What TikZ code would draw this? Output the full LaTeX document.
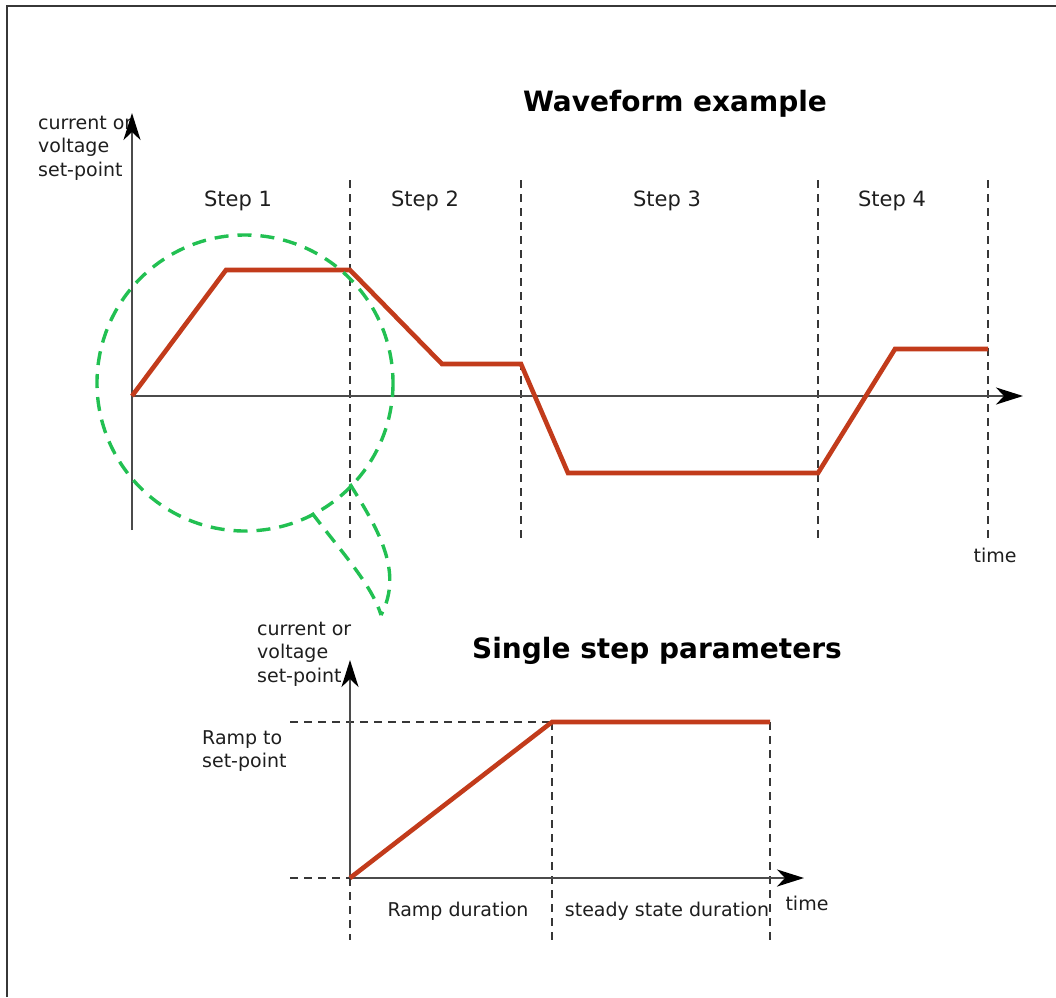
\documentclass[tikz,border=0pt]{standalone}
\usepackage{fontspec}
\setmainfont{DejaVu Sans}
\usetikzlibrary{arrows.meta}
\begin{document}
\begin{tikzpicture}[x=1pt,y=-1pt,
  lbl/.style={inner sep=0pt, text=textcol, font=\fontsize{19}{23.3}\selectfont},
  steplbl/.style={inner sep=0pt, text=textcol, font=\fontsize{21}{24}\selectfont},
  ttl/.style={inner sep=0pt, font=\fontsize{28}{31}\selectfont\bfseries},
  axis/.style={draw=axisgray, line width=2.6pt, -{Stealth[length=27pt,width=17pt,inset=8pt,color=black]}},
  guide/.style={draw=guidegray, line width=1.8pt, dash pattern=on 8pt off 6pt},
  wave/.style={draw=wavered, line width=4.6pt, line join=miter},
  bubble/.style={draw=bubblegreen, line width=3.4pt, dash pattern=on 14pt off 9pt},
  frame/.style={draw=framegray, line width=1.6pt}]
\definecolor{axisgray}{RGB}{75,75,75}
\definecolor{guidegray}{RGB}{55,55,55}
\definecolor{textcol}{RGB}{30,30,30}
\definecolor{wavered}{RGB}{194,59,27}
\definecolor{bubblegreen}{RGB}{34,192,82}
\definecolor{framegray}{RGB}{55,55,55}
\useasboundingbox (0,0) rectangle (1056,997);
% frame
\coordinate (f1) at (7,997);
\coordinate (f2) at (7,6);
\coordinate (f3) at (1056,6);
\draw[frame] (f1) -- (f2) -- (f3);

% ---------- top diagram ----------
\node[ttl] (t1) at (675,104) {Waveform example};
\node[lbl, anchor=west, align=left] (ylab1) at (38,148) {current or\\voltage\\set-point};
\node[steplbl] (s1) at (238,201) {Step 1};
\node[steplbl] (s2) at (425,201) {Step 2};
\node[steplbl] (s3) at (667,201) {Step 3};
\node[steplbl] (s4) at (892,201) {Step 4};
\node[lbl] (time1) at (995,555) {time};

% guides
\foreach \x/\n in {350/a,521/b,818/c,988/d}{
  \coordinate (g\n1) at (\x,180);
  \coordinate (g\n2) at (\x,538);
  \draw[guide] (g\n1) -- (g\n2);
}
% axes
\coordinate (o1) at (132,396);
\coordinate (yb1) at (132,530);
\coordinate (yt1) at (132,113);
\coordinate (xr1) at (1023,396);
\draw[axis] (yb1) -- (yt1);
\draw[axis] (o1) -- (xr1);
% waveform
\coordinate (w1) at (226,270);
\coordinate (w2) at (350,270);
\coordinate (w3) at (442,364);
\coordinate (w4) at (521,364);
\coordinate (w5) at (568,473);
\coordinate (w6) at (818,473);
\coordinate (w7) at (895,349);
\coordinate (w8) at (988,349);
\draw[wave] (o1) -- (w1) -- (w2) -- (w3) -- (w4) -- (w5) -- (w6) -- (w7) -- (w8);

% green magnifier bubble
\coordinate (cc) at (245,383);
\draw[bubble] (cc) circle[radius=148];
\coordinate (k1) at (312,513);
\coordinate (k2) at (350,484);
\coordinate (tip) at (381,615);
\draw[bubble] (k1) .. controls (340,550) and (372,585) .. (tip);
\draw[bubble] (k2) .. controls (375,525) and (405,570) .. (tip);

% ---------- bottom diagram ----------
\node[ttl] (t2) at (657,651) {Single step parameters};
\node[lbl, anchor=west, align=left] (ylab2) at (257,654) {current or\\voltage\\set-point};
\node[lbl, anchor=west, align=left] (ramp) at (202,751) {Ramp to\\set-point};
\node[lbl] (rd) at (458,911) {Ramp duration};
\node[lbl] (sd) at (667,911) {steady state duration};
\node[lbl] (time2) at (807,903) {time};

\coordinate (o2) at (350,878);
\coordinate (hl) at (290,878);
\coordinate (sl) at (290,722);
\coordinate (sr) at (770,722);
\coordinate (p1) at (552,722);
\coordinate (vb0) at (350,940);
\coordinate (vb1) at (552,940);
\coordinate (vb2) at (770,940);
\draw[guide] (hl) -- (o2);
\draw[guide] (sl) -- (sr);
\draw[guide] (o2) -- (vb0);
\draw[guide] (p1) -- (vb1);
\draw[guide] (sr) -- (vb2);
\coordinate (yt2) at (350,660);
\coordinate (xr2) at (804,878);
\draw[axis] (o2) -- (yt2);
\draw[axis] (o2) -- (xr2);
\draw[wave] (o2) -- (p1) -- (sr);
\end{tikzpicture}
\end{document}
